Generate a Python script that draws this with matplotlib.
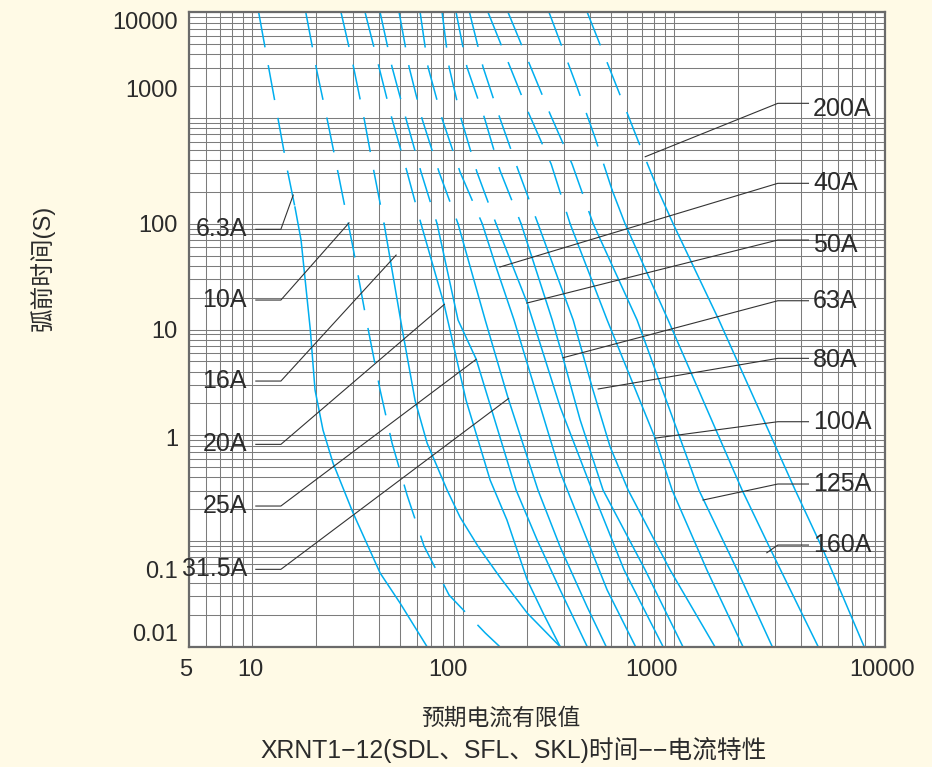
import numpy as np
import matplotlib
matplotlib.use('Agg')
import matplotlib.pyplot as plt
from matplotlib.ticker import FixedLocator, FixedFormatter, LogLocator, NullFormatter
from matplotlib.transforms import ScaledTranslation

plt.rcParams['font.family'] = ['Liberation Sans', 'Noto Sans CJK SC', 'DejaVu Sans']
plt.rcParams['lines.scale_dashes'] = False

# pre-arcing time curves: prospective current (A) vs time (s)
i_6_3 = [10.7, 11.9, 13.2, 14.7, 15.9, 17.0, 18.8, 19.8, 21.6, 24.1, 30.0, 40.3, 50.1, 67.3]
t_6_3 = [10000, 3100, 1000, 309, 144, 70, 10, 2.68, 1.12, 0.546, 0.184, 0.0498, 0.0259, 0.01]

i_10 = [17.9, 20.2, 22.8, 25.7, 30.0, 34.6, 40.3, 45.9, 54.1, 65.1, 85.6, 127, 149]
t_10 = [10000, 2790, 897, 277, 59, 12.6, 2.68, 0.845, 0.272, 0.0896, 0.0308, 0.0135, 0.01]

i_16 = [26.3, 30.0, 33.8, 37.7, 42.1, 51.2, 59.0, 67.3, 83.8, 96.5, 118, 149, 201, 288]
t_16 = [10000, 3180, 1000, 309, 100, 10.3, 2.15, 0.845, 0.303, 0.168, 0.0877, 0.0456, 0.0208, 0.01]

i_20 = [34.2, 39.8, 45.9, 54.1, 63.0, 81.0, 103, 134, 161, 201, 239, 288]
t_20 = [10000, 3040, 980, 309, 100, 17.4, 2.15, 0.377, 0.158, 0.0427, 0.0208, 0.01]

i_25 = [40.3, 45.9, 53.5, 63.0, 75.1, 94.4, 115, 178, 224, 288, 387]
t_25 = [10000, 3040, 980, 309, 100, 12.3, 5.26, 0.303, 0.102, 0.0344, 0.01]

i_31_5 = [49.6, 55.3, 63.7, 76.7, 94.4, 127, 163, 226, 288, 387, 476]
t_31_5 = [10000, 3040, 985, 309, 100, 12.3, 2.25, 0.303, 0.0877, 0.0237, 0.01]

i_40 = [62.4, 68.0, 79.3, 96.5, 123, 143, 174, 288, 387, 481, 656]
t_40 = [10000, 3040, 985, 309, 100, 39, 12.3, 0.449, 0.102, 0.0344, 0.01]

i_50 = [79.3, 85.6, 97.6, 116, 143, 201, 288, 408, 579, 886]
t_50 = [10000, 3040, 985, 309, 100, 17.8, 1.85, 0.303, 0.0531, 0.01]

i_63 = [92.4, 104, 126, 149, 188, 264, 297, 358, 460, 729, 1100]
t_63 = [10000, 3040, 1000, 322, 100, 12.3, 5.4, 1.40, 0.303, 0.0531, 0.01]

i_80 = [107, 124, 149, 182, 226, 332, 408, 497, 605, 957, 1560]
t_80 = [10000, 3040, 1000, 322, 100, 12.3, 2.86, 0.776, 0.303, 0.0531, 0.01]

i_100 = [131, 163, 205, 261, 321, 481, 812, 978, 1430, 2120]
t_100 = [10000, 3390, 1090, 367, 100, 12.3, 0.94, 0.303, 0.0531, 0.01]

i_125 = [163, 205, 258, 328, 413, 667, 1310, 1990, 2920]
t_125 = [10000, 3310, 1090, 367, 100, 12.3, 0.303, 0.0531, 0.01]

i_160 = [255, 346, 422, 508, 585, 936, 2100, 2920, 4820]
t_160 = [10000, 1970, 647, 208, 100, 12.3, 0.303, 0.0769, 0.01]

i_200 = [387, 542, 675, 839, 989, 1630, 3750, 5090, 7960]
t_200 = [10000, 1840, 607, 208, 100, 12.3, 0.303, 0.082, 0.01]

ratings = ['6.3A', '10A', '16A', '20A', '25A', '31.5A', '40A',
           '50A', '63A', '80A', '100A', '125A', '160A', '200A']
# curve is dashed above this time, solid below (None = dashed all the way)
solid_below = [144, None, 100, 100, 100, 100, 100, 100, 100, 100, 100, 100, 208, 208]
# point on each curve where the label leader touches (current, time)
leader_i = [15.6, 28.7, 48.0, 81.3, 115, 164, 149, 200, 297, 436, 812, 1370, 2750, 729]
leader_t = [187, 102, 50.6, 17.3, 5.22, 2.23, 39, 17.8, 5.41, 2.74, 0.94, 0.244, 0.0774, 431]

x_ticks = [5, 10, 100, 1000, 10000]
y_ticks = [0.01, 0.1, 1, 10, 100, 1000, 10000]

currents = [i_6_3, i_10, i_16, i_20, i_25, i_31_5, i_40, i_50, i_63, i_80, i_100, i_125, i_160, i_200]
times = [t_6_3, t_10, t_16, t_20, t_25, t_31_5, t_40, t_50, t_63, t_80, t_100, t_125, t_160, t_200]

BLUE = '#00AEEF'
TXT = '#2b2b2b'
BG = '#FFFAE6'

fig = plt.figure(figsize=(9.32, 7.67), dpi=100, facecolor=BG)
ax = fig.add_axes([0.2028, 0.1568, 0.7468, 0.8271])
ax.set_facecolor('white')
ax.set_xscale('log')
ax.set_yscale('log')
ax.set_xlim(5, 10000)
ax.set_ylim(0.01, 10000)

for cur, tim, st in zip(currents, times, solid_below):
    cur = np.array(cur)
    tim = np.array(tim)
    if st is None:
        ax.plot(cur, tim, color=BLUE, lw=1.1, dashes=(25.6, 13.0))
    else:
        k = list(tim).index(st)
        ax.plot(cur[:k + 1], tim[:k + 1], color=BLUE, lw=1.1, dashes=(25.6, 13.0))
        ax.plot(cur[k:], tim[k:], color=BLUE, lw=1.1)

# ticks and grid
ax.xaxis.set_major_locator(FixedLocator(x_ticks))
ax.xaxis.set_major_formatter(FixedFormatter([str(v) for v in x_ticks]))
ax.yaxis.set_major_locator(FixedLocator(y_ticks))
ax.yaxis.set_major_formatter(FixedFormatter(['0.01', '0.1', '1', '10', '100', '1000', '10000']))
for axis in (ax.xaxis, ax.yaxis):
    axis.set_minor_locator(LogLocator(base=10, subs=np.arange(2, 10), numticks=60))
    axis.set_minor_formatter(NullFormatter())
ax.grid(True, which='both', color='#7c7c7c', lw=0.75)
ax.tick_params(which='both', length=0, labelsize=17, labelcolor=TXT)
ax.tick_params(axis='x', pad=9)
ax.tick_params(axis='y', pad=8)
for sp in ax.spines.values():
    sp.set_color('#6a6a6a')
    sp.set_linewidth(1.6)

# the printed chart has its tick labels slightly off the grid lines
x_shift = [-0.03, -0.02, -0.15, -0.23, -0.03]
y_shift = [0.14, -0.28, -0.02, 0.0, 0.0, 0.30, -0.08]
for lbl, dx in zip(ax.get_xticklabels(), x_shift):
    lbl.set_transform(lbl.get_transform() + ScaledTranslation(dx, 0, fig.dpi_scale_trans))
for lbl, dy in zip(ax.get_yticklabels(), y_shift):
    lbl.set_transform(lbl.get_transform() + ScaledTranslation(0, dy, fig.dpi_scale_trans))


def frac_to_data(fx, fy):
    return ax.transData.inverted().transform(ax.transAxes.transform((fx, fy)))


# label layout in axes fraction: (side, leader height, text height)
left_side = {'6.3A': 0.658, '10A': 0.5465, '16A': 0.4188, '20A': 0.319,
             '25A': 0.2218, '31.5A': 0.122}
right_side = {'200A': (0.8566, 0.8474), '40A': (0.7305, 0.7305), '50A': (0.6411, 0.6340),
              '63A': (0.5454, 0.5454), '80A': (0.4546, 0.4525), '100A': (0.3547, 0.3547),
              '125A': (0.2565, 0.2565), '160A': (0.1603, 0.1603)}

for name, li, lt in zip(ratings, leader_i, leader_t):
    if name in left_side:
        fy = left_side[name]
        p1 = frac_to_data(0.096, fy)
        p2 = frac_to_data(0.132, fy)
        ax.plot([p1[0], p2[0], li], [p1[1], p2[1], lt], color='#333333', lw=0.8)
        ax.text(0.0833, fy, name, transform=ax.transAxes, ha='right', va='center',
                fontsize=18, color=TXT)
    else:
        fy, ty = right_side[name]
        p1 = frac_to_data(0.890, fy)
        p2 = frac_to_data(0.846, fy)
        ax.plot([p1[0], p2[0], li], [p1[1], p2[1], lt], color='#333333', lw=0.8)
        ax.text(0.8966, ty, name, transform=ax.transAxes, ha='left', va='center',
                fontsize=18, color=TXT)

fig.text(0.045, 0.6506, '弧前时间(S)', rotation=90, ha='center', va='center',
         fontsize=17, color=TXT)
fig.text(0.5375, 0.0639, '预期电流有限值', ha='center', va='center', fontsize=16.4, color=TXT)
fig.text(0.551, 0.0222, 'XRNT1−12(SDL、SFL、SKL)时间−−电流特性', ha='center', va='center',
         fontsize=17.8, color=TXT)

fig.savefig('out.png', dpi=100, facecolor=BG)
